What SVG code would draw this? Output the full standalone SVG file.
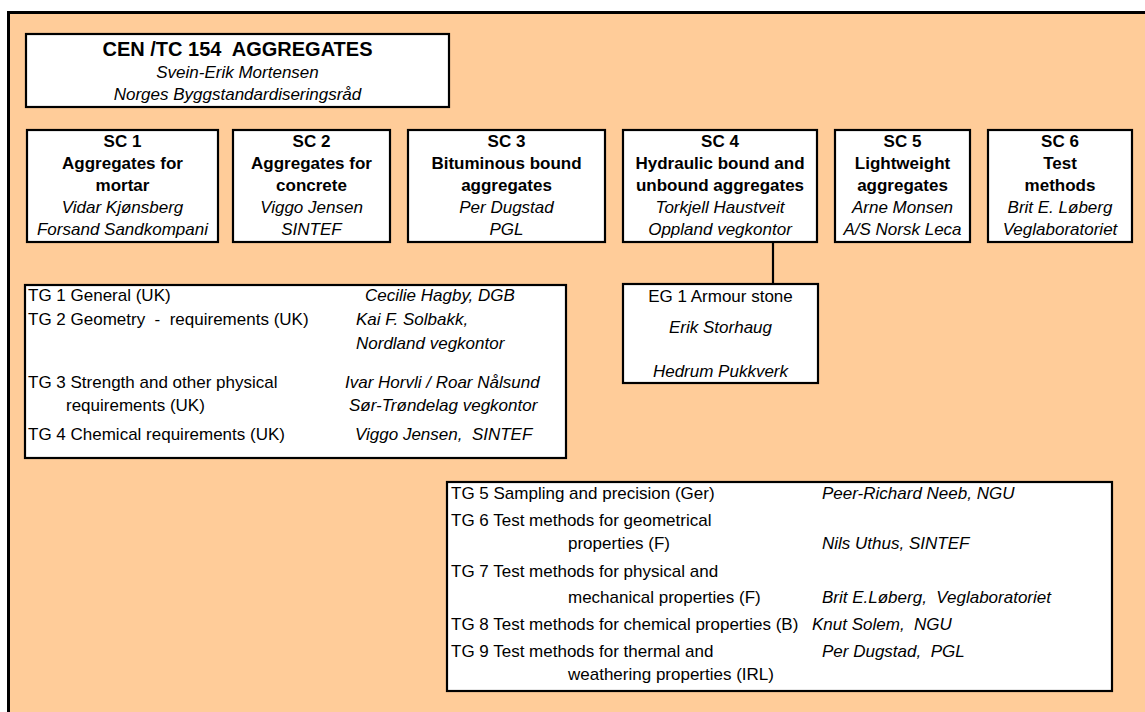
<svg xmlns="http://www.w3.org/2000/svg" width="1145" height="712" viewBox="0 0 1145 712">
<style>
text{font-family:"Liberation Sans",Arial,sans-serif;font-size:17px;fill:#000;white-space:pre}
.b{font-weight:bold}
.i{font-style:italic}
.c{text-anchor:middle}
.t{font-size:20px;font-weight:bold}
.box{fill:#fff;stroke:#000;stroke-width:2.2}
.ln{stroke:#000;stroke-width:2.2;fill:none}
</style>
<rect x="8.5" y="12.5" width="1150" height="720" fill="#FFCC99" stroke="#000" stroke-width="3"/>
<g id="tc154">
<rect class="box" x="26" y="34" width="423" height="73"/>
<text class="t c" x="237.5" y="56">CEN /TC 154  AGGREGATES</text>
<text class="i c" x="237.5" y="78">Svein-Erik Mortensen</text>
<text class="i c" x="237.5" y="100">Norges Byggstandardiseringsråd</text>
</g>
<g id="connectors">
<line class="ln" x1="773" y1="242" x2="773" y2="284"/>
</g>
<g id="sc1">
<rect class="box" x="27" y="130" width="191" height="112"/>
<text class="b c" x="122.5" y="147">SC 1</text>
<text class="b c" x="122.5" y="169">Aggregates for</text>
<text class="b c" x="122.5" y="191">mortar</text>
<text class="i c" x="122.5" y="213">Vidar Kjønsberg</text>
<text class="i c" x="122.5" y="235">Forsand Sandkompani</text>
</g>
<g id="sc2">
<rect class="box" x="233" y="130" width="157" height="112"/>
<text class="b c" x="311.5" y="147">SC 2</text>
<text class="b c" x="311.5" y="169">Aggregates for</text>
<text class="b c" x="311.5" y="191">concrete</text>
<text class="i c" x="311.5" y="213">Viggo Jensen</text>
<text class="i c" x="311.5" y="235">SINTEF</text>
</g>
<g id="sc3">
<rect class="box" x="408" y="130" width="197" height="112"/>
<text class="b c" x="506.5" y="147">SC 3</text>
<text class="b c" x="506.5" y="169">Bituminous bound</text>
<text class="b c" x="506.5" y="191">aggregates</text>
<text class="i c" x="506.5" y="213">Per Dugstad</text>
<text class="i c" x="506.5" y="235">PGL</text>
</g>
<g id="sc4">
<rect class="box" x="623" y="130" width="194" height="112"/>
<text class="b c" x="720" y="147">SC 4</text>
<text class="b c" x="720" y="169">Hydraulic bound and</text>
<text class="b c" x="720" y="191">unbound aggregates</text>
<text class="i c" x="720" y="213">Torkjell Haustveit</text>
<text class="i c" x="720" y="235">Oppland vegkontor</text>
</g>
<g id="sc5">
<rect class="box" x="835" y="130" width="135" height="112"/>
<text class="b c" x="902.5" y="147">SC 5</text>
<text class="b c" x="902.5" y="169">Lightweight</text>
<text class="b c" x="902.5" y="191">aggregates</text>
<text class="i c" x="902.5" y="213">Arne Monsen</text>
<text class="i c" x="902.5" y="235">A/S Norsk Leca</text>
</g>
<g id="sc6">
<rect class="box" x="988" y="130" width="144" height="112"/>
<text class="b c" x="1060" y="147">SC 6</text>
<text class="b c" x="1060" y="169">Test</text>
<text class="b c" x="1060" y="191">methods</text>
<text class="i c" x="1060" y="213">Brit E. Løberg</text>
<text class="i c" x="1060" y="235">Veglaboratoriet</text>
</g>
<g id="eg1">
<rect class="box" x="623" y="284" width="195" height="99"/>
<text class="c" x="720.5" y="302">EG 1 Armour stone</text>
<text class="i c" x="720.5" y="333">Erik Storhaug</text>
<text class="i c" x="720.5" y="377">Hedrum Pukkverk</text>
</g>
<g id="tg1-4">
<rect class="box" x="25" y="285" width="541" height="173"/>
<text x="28" y="301">TG 1 General (UK)</text>
<text class="i" x="365" y="301">Cecilie Hagby, DGB</text>
<text x="28" y="325">TG 2 Geometry  -  requirements (UK)</text>
<text class="i" x="356" y="325">Kai F. Solbakk,</text>
<text class="i" x="356" y="349">Nordland vegkontor</text>
<text x="28" y="388">TG 3 Strength and other physical</text>
<text class="i" x="345" y="388">Ivar Horvli / Roar Nålsund</text>
<text x="66" y="411">requirements (UK)</text>
<text class="i" x="349" y="411">Sør-Trøndelag vegkontor</text>
<text x="28" y="440">TG 4 Chemical requirements (UK)</text>
<text class="i" x="355" y="440">Viggo Jensen,  SINTEF</text>
</g>
<g id="tg5-9">
<rect class="box" x="447" y="482" width="665" height="209"/>
<text x="451" y="499">TG 5 Sampling and precision (Ger)</text>
<text class="i" x="822" y="499">Peer-Richard Neeb, NGU</text>
<text x="451" y="526">TG 6 Test methods for geometrical</text>
<text x="568" y="549">properties (F)</text>
<text class="i" x="822" y="549">Nils Uthus, SINTEF</text>
<text x="451" y="577">TG 7 Test methods for physical and</text>
<text x="568" y="603">mechanical properties (F)</text>
<text class="i" x="822" y="603">Brit E.Løberg,  Veglaboratoriet</text>
<text x="451" y="630">TG 8 Test methods for chemical properties (B)</text>
<text class="i" x="812" y="630">Knut Solem,  NGU</text>
<text x="451" y="657">TG 9 Test methods for thermal and</text>
<text class="i" x="822" y="657">Per Dugstad,  PGL</text>
<text x="568" y="680">weathering properties (IRL)</text>
</g>
</svg>
